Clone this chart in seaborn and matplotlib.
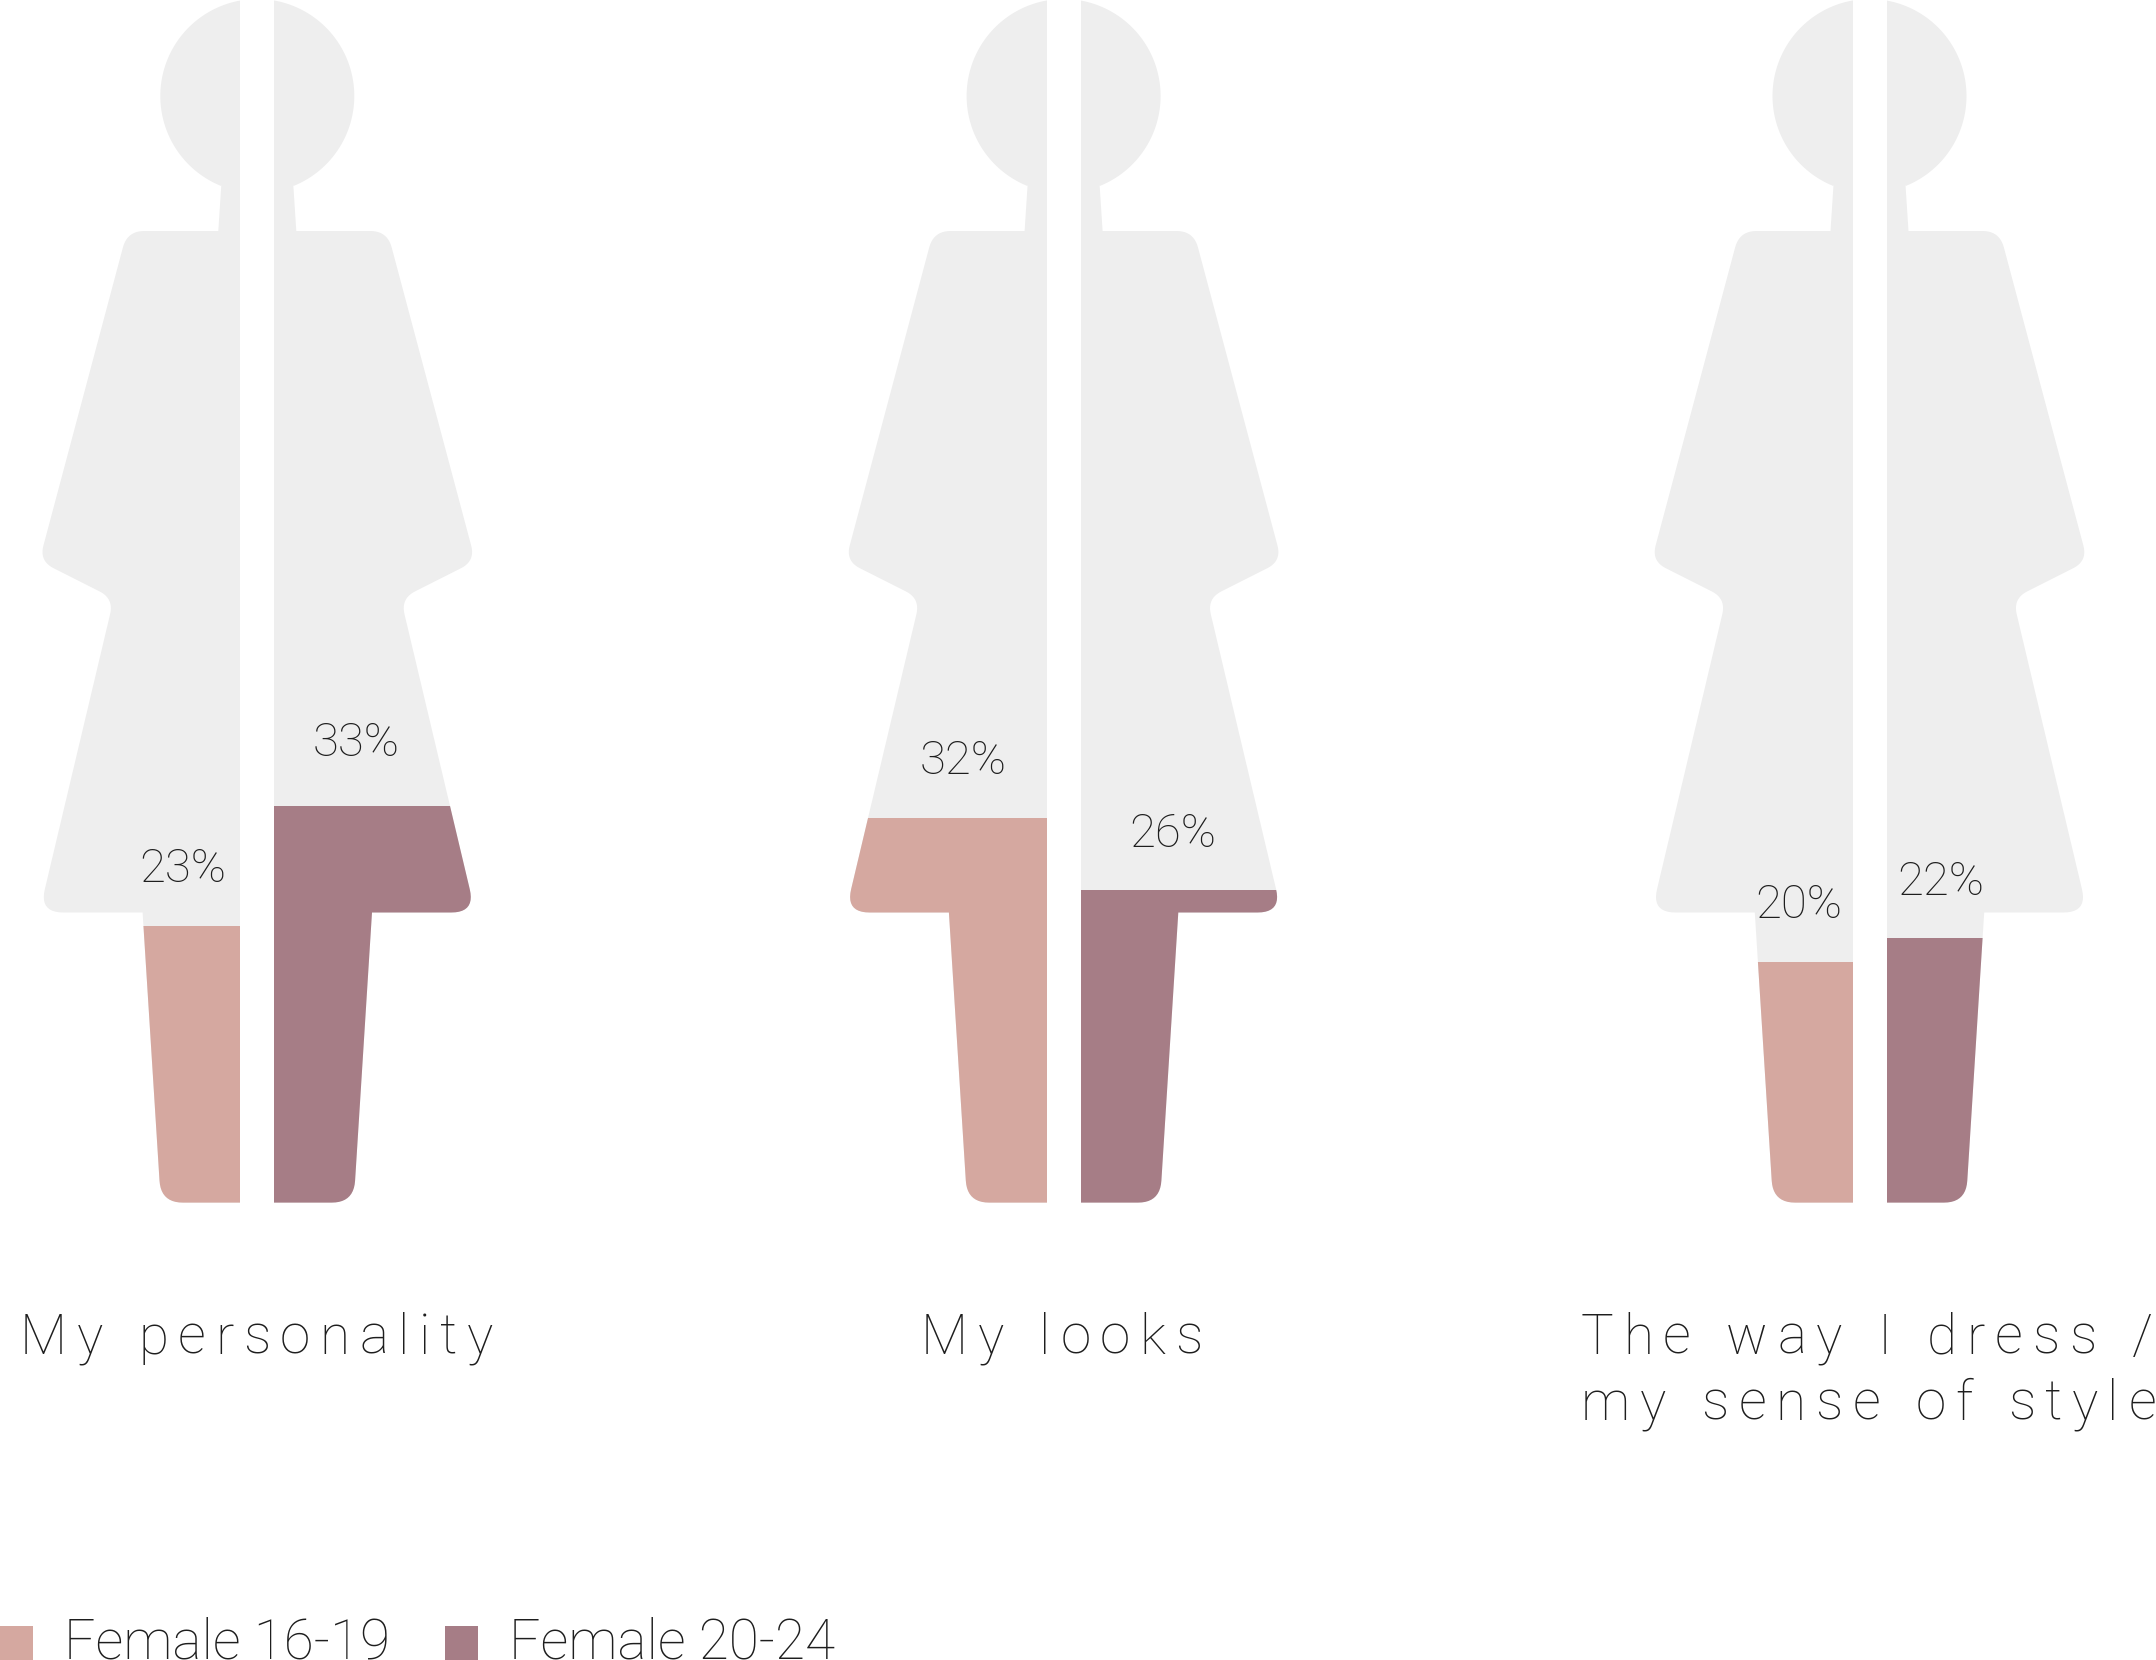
import numpy as np
import pandas as pd
import matplotlib
matplotlib.use("Agg")
import matplotlib.pyplot as plt
from matplotlib.font_manager import FontProperties
from matplotlib.patches import Patch
from matplotlib.path import Path
from matplotlib.text import Text
from matplotlib.transforms import Bbox, IdentityTransform
import seaborn as sns

# ---- data -----------------------------------------------------------------
statements = ["My personality", "My looks", "The way I dress /\nmy sense of style"]
age_groups = ["Female 16-19", "Female 20-24"]
female_16_19 = [23, 32, 20]
female_20_24 = [33, 26, 22]
full_scale = [100, 100]

# ---- style ----------------------------------------------------------------
W, H = 2156, 1660
PINK, MAUVE, GREY, INK = "#D5A8A0", "#A67D86", "#EEEEEE", "#1E1E1E"
FONT = FontProperties(family="Roboto", weight="light")
PANEL_CENTRES = [257.3, 1063.6, 1869.5]
PANEL_HALF = 256
FIG_TOP_SCALE = 1202.6          # px for 100 %
UNIT = 274                      # px between the two bar centres
BAR_WIDTH = 240 / UNIT
# horizontal offset (px) of the value labels from the panel centre
LABEL_DX = [(-75, 99), (-100, 109), (-71, 71)]
LABEL_LIFT = [(3.65, 4.15), (3.65, 3.6), (3.7, 3.6)]

sns.set_theme(style="white")


class TrackedText(Text):
    """A text with letter spacing, which matplotlib does not offer by itself."""

    def __init__(self, *args, tracking=0.0, word_extra=0.0, leading=0.0, **kwargs):
        super().__init__(*args, **kwargs)
        self._tracking = tracking
        self._word_extra = word_extra
        self._leading = leading

    def _glyphs(self, renderer):
        x0, y0 = self.get_transform().transform(self.get_position())
        fp = self.get_fontproperties()
        out = []
        for i, line in enumerate(self.get_text().split("\n")):
            for k, ch in enumerate(line):
                if ch == " ":
                    continue
                head = renderer.get_text_width_height_descent(line[:k + 1], fp, False)[0]
                own = renderer.get_text_width_height_descent(ch, fp, False)[0]
                gaps = line[:k].count(" ")
                g = Text(x0 + head - own + k * self._tracking + gaps * self._word_extra,
                         y0 - i * self._leading, ch,
                         fontproperties=fp, color=self.get_color(), va="baseline", ha="left",
                         transform=IdentityTransform())
                g.set_figure(self.get_figure())
                out.append(g)
        return out

    def draw(self, renderer):
        for g in self._glyphs(renderer):
            g.draw(renderer)

    def get_window_extent(self, renderer=None, dpi=None):
        renderer = renderer or self.get_figure().canvas.get_renderer()
        return Bbox.union([g.get_window_extent(renderer) for g in self._glyphs(renderer)])


def rounded(points):
    """Polyline with quadratic corners; points are (x, y, radius)."""
    out = []
    n = len(points)
    for i, (x, y, r) in enumerate(points):
        p = np.array([x, y], float)
        if r == 0 or i == 0 or i == n - 1:
            out.append(p)
            continue
        a = np.array(points[i - 1][:2], float)
        b = np.array(points[i + 1][:2], float)
        s = p + (a - p) / np.linalg.norm(a - p) * r
        e = p + (b - p) / np.linalg.norm(b - p) * r
        for t in np.linspace(0, 1, 12):
            out.append((1 - t) ** 2 * s + 2 * t * (1 - t) * p + t ** 2 * e)
    return np.array(out)


def figure_outline():
    """Woman pictogram used as the clip of the bars: (px from centre, px from top)."""
    top = np.linspace(0.0, np.pi - np.arctan2(36, 89), 80)
    head = np.column_stack([-97 * np.sin(top), 96 - 97 * np.cos(top)])
    body = rounded([(-36, 185, 0), (-39, 231, 0), (-130, 231, 17), (-218, 561, 16),
                    (-143.5, 598.6, 16), (-218, 912.5, 24), (-114.7, 912.5, 0),
                    (-96.4, 1202.6, 22), (0, 1202.6, 0)])
    left = np.vstack([head, body])
    right = left[::-1] * np.array([-1, 1])
    return np.vstack([left, right])


outline = figure_outline()


def to_data(arr):
    return np.column_stack([0.5 + arr[:, 0] / UNIT, (FIG_TOP_SCALE - arr[:, 1]) / FIG_TOP_SCALE * 100])


fig = plt.figure(figsize=(W / 100, H / 100), dpi=100, facecolor="white")
palette = dict(zip(age_groups, [PINK, MAUVE]))

for i, cx in enumerate(PANEL_CENTRES):
    ax = fig.add_axes([(cx - PANEL_HALF) / W, 1 - FIG_TOP_SCALE / H,
                       2 * PANEL_HALF / W, FIG_TOP_SCALE / H])
    row = pd.DataFrame({"age": age_groups, "share": [female_16_19[i], female_20_24[i]]})
    sns.barplot(x=age_groups, y=full_scale, color=GREY, saturation=1, width=BAR_WIDTH,
                errorbar=None, linewidth=0, ax=ax)
    sns.barplot(data=row, x="age", y="share", hue="age", palette=palette, saturation=1,
                width=BAR_WIDTH, errorbar=None, linewidth=0, legend=False, ax=ax)
    ax.set_xlim(0.5 - PANEL_HALF / UNIT, 0.5 + PANEL_HALF / UNIT)
    ax.set_ylim(0, 100)
    ax.set_axis_off()
    clip = Path(to_data(outline))
    for bar in ax.patches:
        bar.set_clip_path(clip, ax.transData)
    for j, value in enumerate(row["share"]):
        ax.text(0.5 + LABEL_DX[i][j] / UNIT, value + LABEL_LIFT[i][j], f"{value}%",
                ha="center", va="baseline", color=INK, fontproperties=FONT, fontsize=34)

LABEL_X = [20, 921, 1581]
for x, s in zip(LABEL_X, statements):
    fig.add_artist(TrackedText(x / W, 1 - 1353.5 / H, s, transform=fig.transFigure,
                               fontproperties=FONT, fontsize=39.5, color=INK,
                               va="baseline", ha="left", tracking=9.6, word_extra=3.0, leading=66))

handles = [Patch(facecolor=palette[a], edgecolor="none", label=a) for a in age_groups]
legend = fig.legend(handles=handles, loc="lower left", bbox_to_anchor=(0, -9.5 / H), ncols=2,
                    frameon=False,
                    prop=FontProperties(family="Roboto", weight="light", size=39.5),
                    labelcolor=INK, borderpad=0, borderaxespad=0, handlelength=0.6,
                    handleheight=0.6, handletextpad=0.57, columnspacing=1.0)
for patch in legend.get_patches():
    patch.set_y(patch.get_y() - 3.3)

fig.savefig("out.png", dpi=100, facecolor="white")
